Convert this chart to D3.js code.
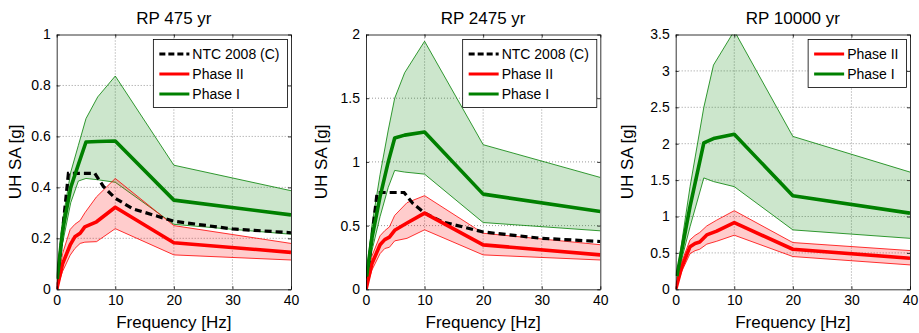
<!DOCTYPE html>
<html>
<head>
<meta charset="utf-8">
<script src="https://cdn.jsdelivr.net/npm/d3@7"></script>
<style>
  html, body { margin: 0; padding: 0; background: #fff; }
  svg { display: block; }
  text { font-family: "Liberation Sans", Arial, Helvetica, sans-serif; fill: #000; }
</style>
</head>
<body>
<svg id="chart" width="919" height="333"></svg>
<script>
// ---------------- DATA ----------------
const titles = ["RP 475 yr", "RP 2475 yr", "RP 10000 yr"];
const xTicks = [0, 10, 20, 30, 40];
const yTicks475 = [0, 0.2, 0.4, 0.6, 0.8, 1];
const yTicks2475 = [0, 0.5, 1, 1.5, 2];
const yTicks10000 = [0, 0.5, 1, 1.5, 2, 2.5, 3, 3.5];
const yTickLabels475 = ["0", "0.2", "0.4", "0.6", "0.8", "1"];
const yTickLabels2475 = ["0", "0.5", "1", "1.5", "2"];
const yTickLabels10000 = ["0", "0.5", "1", "1.5", "2", "2.5", "3", "3.5"];
const seriesNames = ["NTC 2008 (C)", "Phase II", "Phase I"];

// RP 475 yr
const ntcFreq475 = [0, 0.5, 2, 6.5, 8, 10, 13, 20, 30, 40];
const ntc475 = [0, 0.114, 0.455, 0.455, 0.403, 0.357, 0.316, 0.267, 0.237, 0.222];
const p2Freq475 = [0, 1, 2.3, 3.1, 4, 4.8, 6.8, 10, 20, 40];
const p2Mean475 = [0, 0.10, 0.174, 0.206, 0.22, 0.245, 0.265, 0.322, 0.183, 0.145];
const p2Upper475 = [0, 0.14, 0.235, 0.255, 0.27, 0.30, 0.363, 0.435, 0.25, 0.18];
const p2Lower475 = [0, 0.07, 0.134, 0.16, 0.18, 0.185, 0.187, 0.238, 0.135, 0.115];
const p1Freq475 = [0.1, 1, 2.4, 3.7, 5, 7, 10, 20, 40];
const p1Mean475 = [0.04, 0.23, 0.40, 0.49, 0.578, 0.58, 0.582, 0.350, 0.292];
const p1Upper475 = [0.05, 0.27, 0.46, 0.565, 0.67, 0.755, 0.837, 0.487, 0.387];
const p1Lower475 = [0.03, 0.18, 0.34, 0.425, 0.435, 0.43, 0.42, 0.255, 0.216];

// RP 2475 yr
const ntcFreq2475 = [0, 0.5, 1.9, 6.5, 8, 10, 13, 20, 30, 40];
const ntc2475 = [0, 0.2, 0.76, 0.76, 0.674, 0.599, 0.53, 0.45, 0.40, 0.375];
const p2Freq2475 = [0, 1, 2.4, 3.2, 4, 4.9, 7, 10, 20, 40];
const p2Mean2475 = [0, 0.2, 0.35, 0.39, 0.41, 0.463, 0.52, 0.598, 0.349, 0.27];
const p2Upper2475 = [0, 0.26, 0.42, 0.46, 0.49, 0.58, 0.68, 0.735, 0.44, 0.35];
const p2Lower2475 = [0, 0.15, 0.28, 0.32, 0.33, 0.38, 0.40, 0.467, 0.27, 0.23];
const p1Freq2475 = [0.1, 1, 2.4, 3.8, 4.9, 6.6, 10, 20, 40];
const p1Mean2475 = [0.1, 0.4, 0.728, 1.0, 1.187, 1.21, 1.235, 0.747, 0.61];
const p1Upper2475 = [0.12, 0.5, 0.9, 1.25, 1.5, 1.70, 1.947, 1.135, 0.878];
const p1Lower2475 = [0.08, 0.3, 0.57, 0.8, 0.933, 0.92, 0.904, 0.524, 0.459];

// RP 10000 yr
const p2Freq10000 = [0, 1, 2.45, 3.3, 4.1, 5.3, 7, 10, 20, 40];
const p2Mean10000 = [0, 0.3, 0.586, 0.63, 0.65, 0.747, 0.8, 0.915, 0.55, 0.427];
const p2Upper10000 = [0, 0.37, 0.68, 0.74, 0.78, 0.87, 0.95, 1.08, 0.642, 0.532];
const p2Lower10000 = [0, 0.24, 0.49, 0.53, 0.55, 0.62, 0.66, 0.743, 0.45, 0.335];
const p1Freq10000 = [0.2, 2.45, 4.8, 6.45, 10, 20, 40];
const p1Mean10000 = [0.18, 1.14, 2.01, 2.07, 2.13, 1.284, 1.046];
const p1Upper10000 = [0.2, 1.41, 2.5, 3.08, 3.55, 2.1, 1.61];
const p1Lower10000 = [0.15, 0.86, 1.53, 1.48, 1.41, 0.816, 0.70];

// ---------------- STYLE / LAYOUT ----------------
const GREEN = "#008000", RED = "#ff0000";
const panels = [
  { title: titles[0], left: 56.7, yMax: 1, yTicks: yTicks475, yLabels: yTickLabels475,
    ntc: { f: ntcFreq475, v: ntc475 },
    p2: { f: p2Freq475, m: p2Mean475, u: p2Upper475, l: p2Lower475 },
    p1: { f: p1Freq475, m: p1Mean475, u: p1Upper475, l: p1Lower475 },
    yLabelX: 15 },
  { title: titles[1], left: 366, yMax: 2, yTicks: yTicks2475, yLabels: yTickLabels2475,
    ntc: { f: ntcFreq2475, v: ntc2475 },
    p2: { f: p2Freq2475, m: p2Mean2475, u: p2Upper2475, l: p2Lower2475 },
    p1: { f: p1Freq2475, m: p1Mean2475, u: p1Upper2475, l: p1Lower2475 },
    yLabelX: 321 },
  { title: titles[2], left: 675.7, yMax: 3.5, yTicks: yTicks10000, yLabels: yTickLabels10000,
    ntc: null,
    p2: { f: p2Freq10000, m: p2Mean10000, u: p2Upper10000, l: p2Lower10000 },
    p1: { f: p1Freq10000, m: p1Mean10000, u: p1Upper10000, l: p1Lower10000 },
    yLabelX: 627 }
];
const W = 234.3, TOP = 34.5, BOTTOM = 289.3;

const svg = d3.select("#chart");

panels.forEach((p, i) => {
  const x = d3.scaleLinear().domain([0, 40]).range([p.left, p.left + W]);
  const y = d3.scaleLinear().domain([0, p.yMax]).range([BOTTOM, TOP]);
  const g = svg.append("g");

  const clipId = "clip" + i;
  svg.append("defs").append("clipPath").attr("id", clipId)
    .append("rect").attr("x", p.left).attr("y", TOP).attr("width", W).attr("height", BOTTOM - TOP);

  // grid
  const grid = g.append("g");
  xTicks.slice(1, -1).forEach(t => {
    grid.append("line").attr("x1", x(t)).attr("x2", x(t)).attr("y1", TOP).attr("y2", BOTTOM)
      .attr("stroke", "#808080").attr("stroke-width", 0.8).attr("stroke-dasharray", "1,2");
  });
  p.yTicks.slice(1, -1).forEach(t => {
    grid.append("line").attr("x1", p.left).attr("x2", p.left + W).attr("y1", y(t)).attr("y2", y(t))
      .attr("stroke", "#808080").attr("stroke-width", 0.8).attr("stroke-dasharray", "1,2");
  });

  const plot = g.append("g").attr("clip-path", `url(#${clipId})`);
  const area = (s) => d3.area().x((d, k) => x(s.f[k])).y0((d, k) => y(s.l[k])).y1((d, k) => y(s.u[k]));
  const line = (fs, vs) => d3.line().x((d, k) => x(fs[k])).y((d, k) => y(vs[k]));

  // bands: Phase I then Phase II
  [[p.p1, GREEN], [p.p2, RED]].forEach(([s, c]) => {
    plot.append("path").datum(s.f).attr("d", area(s)).attr("fill", c).attr("fill-opacity", 0.2).attr("stroke", "none");
    plot.append("path").datum(s.f).attr("d", line(s.f, s.u)).attr("fill", "none").attr("stroke", c).attr("stroke-width", 0.8);
    plot.append("path").datum(s.f).attr("d", line(s.f, s.l)).attr("fill", "none").attr("stroke", c).attr("stroke-width", 0.8);
  });

  if (p.ntc) {
    plot.append("path").datum(p.ntc.f).attr("d", line(p.ntc.f, p.ntc.v))
      .attr("fill", "none").attr("stroke", "#000").attr("stroke-width", 3.2).attr("stroke-dasharray", "7,4");
  }
  plot.append("path").datum(p.p2.f).attr("d", line(p.p2.f, p.p2.m))
    .attr("fill", "none").attr("stroke", RED).attr("stroke-width", 3.6).attr("stroke-linejoin", "round");
  plot.append("path").datum(p.p1.f).attr("d", line(p.p1.f, p.p1.m))
    .attr("fill", "none").attr("stroke", GREEN).attr("stroke-width", 3.6).attr("stroke-linejoin", "round");

  // axes (box, inward ticks)
  const tl = 3;
  const axB = g.append("g").attr("transform", `translate(0,${BOTTOM})`)
    .call(d3.axisBottom(x).tickValues(xTicks).tickSizeInner(-tl).tickSizeOuter(0).tickPadding(6));
  const axT = g.append("g").attr("transform", `translate(0,${TOP})`)
    .call(d3.axisTop(x).tickValues(xTicks).tickSizeInner(-tl).tickSizeOuter(0).tickFormat(""));
  const axL = g.append("g").attr("transform", `translate(${p.left},0)`)
    .call(d3.axisLeft(y).tickValues(p.yTicks).tickSizeInner(-tl).tickSizeOuter(0).tickPadding(6)
      .tickFormat((d, k) => p.yLabels[k]));
  const axR = g.append("g").attr("transform", `translate(${p.left + W},0)`)
    .call(d3.axisRight(y).tickValues(p.yTicks).tickSizeInner(-tl).tickSizeOuter(0).tickFormat(""));
  [axB, axT, axL, axR].forEach(a => {
    a.select(".domain").attr("stroke", "#000").attr("stroke-width", 0.8);
    a.selectAll(".tick line").attr("stroke", "#000").attr("stroke-width", 0.8);
    a.selectAll("text").attr("font-size", 14).attr("font-family", "Liberation Sans, Arial, sans-serif").attr("fill", "#000");
  });

  // title and labels
  g.append("text").attr("x", p.left + W / 2).attr("y", 24).attr("text-anchor", "middle")
    .attr("font-size", 17).text(p.title);
  g.append("text").attr("x", p.left + W / 2).attr("y", 328).attr("text-anchor", "middle")
    .attr("font-size", 17).text("Frequency [Hz]");
  g.append("text").attr("transform", `translate(${p.yLabelX + 6},${(TOP + BOTTOM) / 2}) rotate(-90)`)
    .attr("text-anchor", "middle").attr("font-size", 17).text("UH SA [g]");

  // legend
  const items = p.ntc
    ? [{ n: seriesNames[0], c: "#000", dash: "6,3" }, { n: seriesNames[1], c: RED }, { n: seriesNames[2], c: GREEN }]
    : [{ n: seriesNames[1], c: RED }, { n: seriesNames[2], c: GREEN }];
  const leg = g.append("g");
  const rowH = 20, lx0 = 6, lineLen = 30, textGap = 3;
  const texts = items.map((it, k) => leg.append("text").attr("font-size", 14).attr("y", 0).text(it.n));
  const maxW = d3.max(texts, t => t.node().getComputedTextLength());
  const boxW = lx0 + lineLen + textGap + maxW + 8;
  const boxH = items.length * rowH + 8;
  const bx = p.left + W - 3.5 - boxW, by = TOP + 5;
  leg.insert("rect", "text").attr("x", bx).attr("y", by).attr("width", boxW).attr("height", boxH)
    .attr("fill", "#fff").attr("stroke", "#000").attr("stroke-width", 0.8);
  items.forEach((it, k) => {
    const cy = by + 14.5 + k * rowH;
    leg.append("line").attr("x1", bx + lx0).attr("x2", bx + lx0 + lineLen).attr("y1", cy).attr("y2", cy)
      .attr("stroke", it.c).attr("stroke-width", 3).attr("stroke-dasharray", it.dash || null);
    texts[k].attr("x", bx + lx0 + lineLen + textGap).attr("y", cy + 5);
  });
});
</script>
</body>
</html>
